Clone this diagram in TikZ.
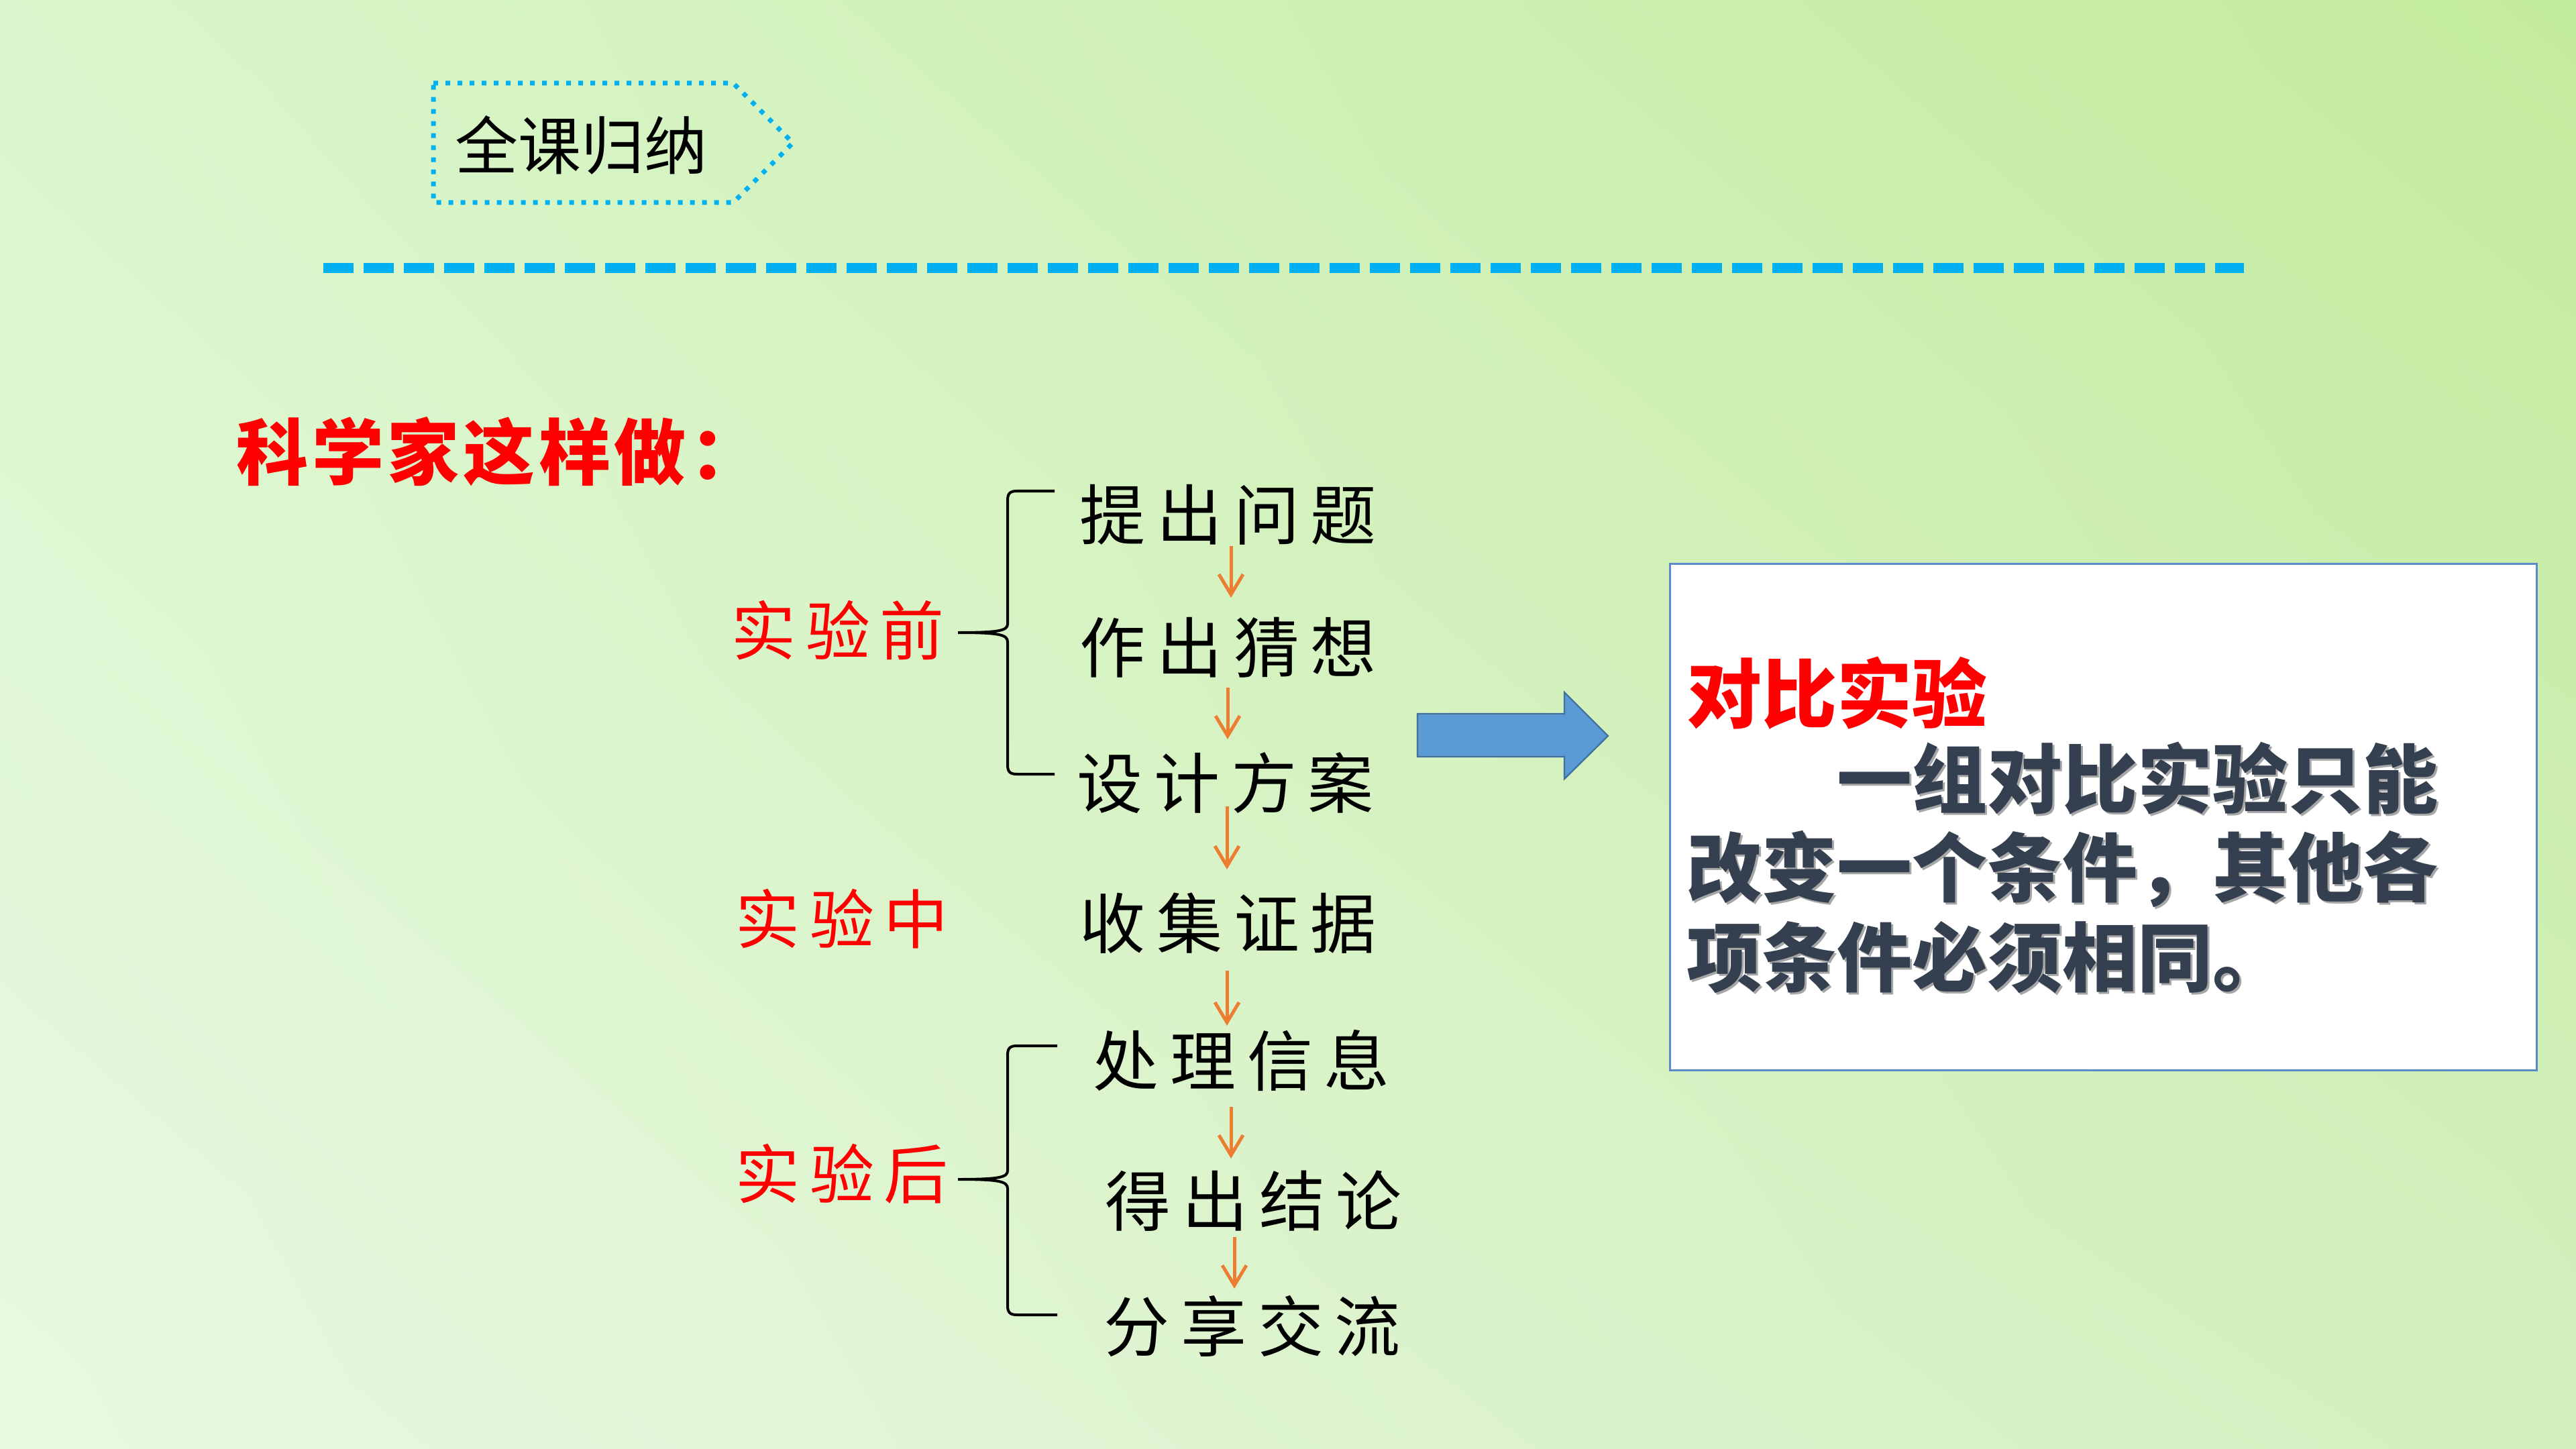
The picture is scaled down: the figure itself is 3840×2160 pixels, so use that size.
\documentclass[tikz,border=0pt]{standalone}
\usepackage{fontspec}
\setmainfont{Noto Sans CJK SC}
\newfontfamily\cjk{Noto Sans CJK SC}
\newfontfamily\cjkstep{Noto Sans CJK SC}[LetterSpace=17]
\newfontfamily\cjklab{Noto Sans CJK SC}[LetterSpace=15]
\newfontfamily\cjkhead{Noto Sans CJK SC}[LetterSpace=5]
\usetikzlibrary{arrows.meta,shadings}
\definecolor{skyblue}{HTML}{00B0F0}
\definecolor{orangearr}{HTML}{ED7D31}
\definecolor{arrfill}{HTML}{5B9BD5}
\definecolor{arrline}{HTML}{41719C}
\definecolor{boxline}{HTML}{5B8BC9}
\definecolor{bodytext}{HTML}{343F50}
\definecolor{bgul}{HTML}{DAF6CC}
\definecolor{bgur}{HTML}{C3EB9C}
\definecolor{bgll}{HTML}{E8F9E2}
\definecolor{bglr}{HTML}{D3EFBE}
\begin{document}
\begin{tikzpicture}[x=0.25pt,y=-0.25pt,
  steptext/.style={inner sep=0pt,anchor=west,font=\cjkstep\fontsize{24.5pt}{28pt}\selectfont,text=black},
  phase/.style={inner sep=0pt,anchor=west,font=\cjklab\fontsize{24pt}{28pt}\selectfont,text=red},
  boxtext/.style={inner sep=0pt,anchor=west,font=\cjk\bfseries\fontsize{28pt}{33pt}\selectfont,text=bodytext},
  flowarrow/.style={draw=orangearr,line width=1.25pt,-{Straight Barb[length=7.5pt,width=9pt,line width=1.25pt]}},
  bracepath/.style={draw=black,line width=1pt},
]
\useasboundingbox (0,0) rectangle (3840,2160);
\shade[upper left=bgul,upper right=bgur,lower left=bgll,lower right=bglr] (0,0) rectangle (3840,2160);

% title tag
\draw[skyblue,line width=1.75pt,dash pattern=on 1.75pt off 2.75pt]
  (646,124) -- (1093,124) -- (1182,213) -- (1093,302) -- (646,302) -- cycle;
\node[inner sep=0pt,font=\cjk\fontsize{23.5pt}{28pt}\selectfont] (title) at (866,216) {全课归纳};

% dashed rule
\draw[skyblue,line width=3.75pt,dash pattern=on 11.25pt off 3.75pt] (482,400) -- (3345,400);

% heading
\node[inner sep=0pt,anchor=west,font=\cjkhead\bfseries\fontsize{26.8pt}{32pt}\selectfont,text=red] (head) at (352,673) {科学家这样做：};

% phases
\node[phase] (pre) at (1090,940) {实验前};
\node[phase] (mid) at (1096,1370) {实验中};
\node[phase] (post) at (1096,1750) {实验后};

% steps
\node[steptext] (s1) at (1609,767) {提出问题};
\node[steptext] (s2) at (1609,965) {作出猜想};
\node[steptext] (s3) at (1605,1167) {设计方案};
\node[steptext] (s4) at (1609,1376) {收集证据};
\node[steptext] (s5) at (1629,1581) {处理信息};
\node[steptext] (s6) at (1647,1790) {得出结论};
\node[steptext] (s7) at (1645,1977) {分享交流};

% arrow coordinates
\coordinate (a1s) at (1835,814);  \coordinate (a1e) at (1835,891);
\coordinate (a2s) at (1830,1025); \coordinate (a2e) at (1830,1102);
\coordinate (a3s) at (1829,1202); \coordinate (a3e) at (1829,1296);
\coordinate (a4s) at (1829,1447); \coordinate (a4e) at (1829,1529);
\coordinate (a5s) at (1835,1650); \coordinate (a5e) at (1835,1727);
\coordinate (a6s) at (1840,1844); \coordinate (a6e) at (1840,1921);
\draw[flowarrow] (a1s) -- (a1e);
\draw[flowarrow] (a2s) -- (a2e);
\draw[flowarrow] (a3s) -- (a3e);
\draw[flowarrow] (a4s) -- (a4e);
\draw[flowarrow] (a5s) -- (a5e);
\draw[flowarrow] (a6s) -- (a6e);

% braces
\coordinate (b1tip) at (1428,943);
\draw[bracepath] (1572,732) -- (1516,732) .. controls (1505,732) and (1502,736) .. (1502,746)
  -- (1502,930) .. controls (1502,940) and (1490,943) .. (b1tip)
  .. controls (1490,943) and (1502,946) .. (1502,957)
  -- (1502,1140) .. controls (1502,1150) and (1505,1154) .. (1516,1154) -- (1572,1154);
\coordinate (b2tip) at (1428,1758);
\draw[bracepath] (1576,1559) -- (1516,1559) .. controls (1505,1559) and (1502,1563) .. (1502,1573)
  -- (1502,1745) .. controls (1502,1755) and (1490,1758) .. (b2tip)
  .. controls (1490,1758) and (1502,1761) .. (1502,1772)
  -- (1502,1946) .. controls (1502,1956) and (1505,1960) .. (1516,1960) -- (1576,1960);

% big blue arrow
\draw[fill=arrfill,draw=arrline,line width=0.6pt,line join=miter]
  (2113,1064) -- (2332,1064) -- (2332,1032) -- (2397,1097) -- (2332,1161) -- (2332,1128) -- (2113,1128) -- cycle;

% right box
\node[draw=boxline,fill=white,line width=0.75pt,minimum width=323pt,minimum height=188.75pt,inner sep=0pt,anchor=north west] (box) at (2488,839) {};
\node[inner sep=0pt,anchor=west,font=\cjk\bfseries\fontsize{28pt}{33pt}\selectfont,text=red] (bt) at (2514,1033) {对比实验};
\begin{scope}[every node/.append style={boxtext}]
\node[text=black!35] at (2517,1163) {　　一组对比实验只能};
\node[text=black!35] at (2517,1299) {改变一个条件，其他各};
\node[text=black!35] at (2517,1430) {项条件必须相同。};
\node (l1) at (2514,1160) {　　一组对比实验只能};
\node (l2) at (2514,1296) {改变一个条件，其他各};
\node (l3) at (2514,1427) {项条件必须相同。};
\end{scope}
\end{tikzpicture}
\end{document}
